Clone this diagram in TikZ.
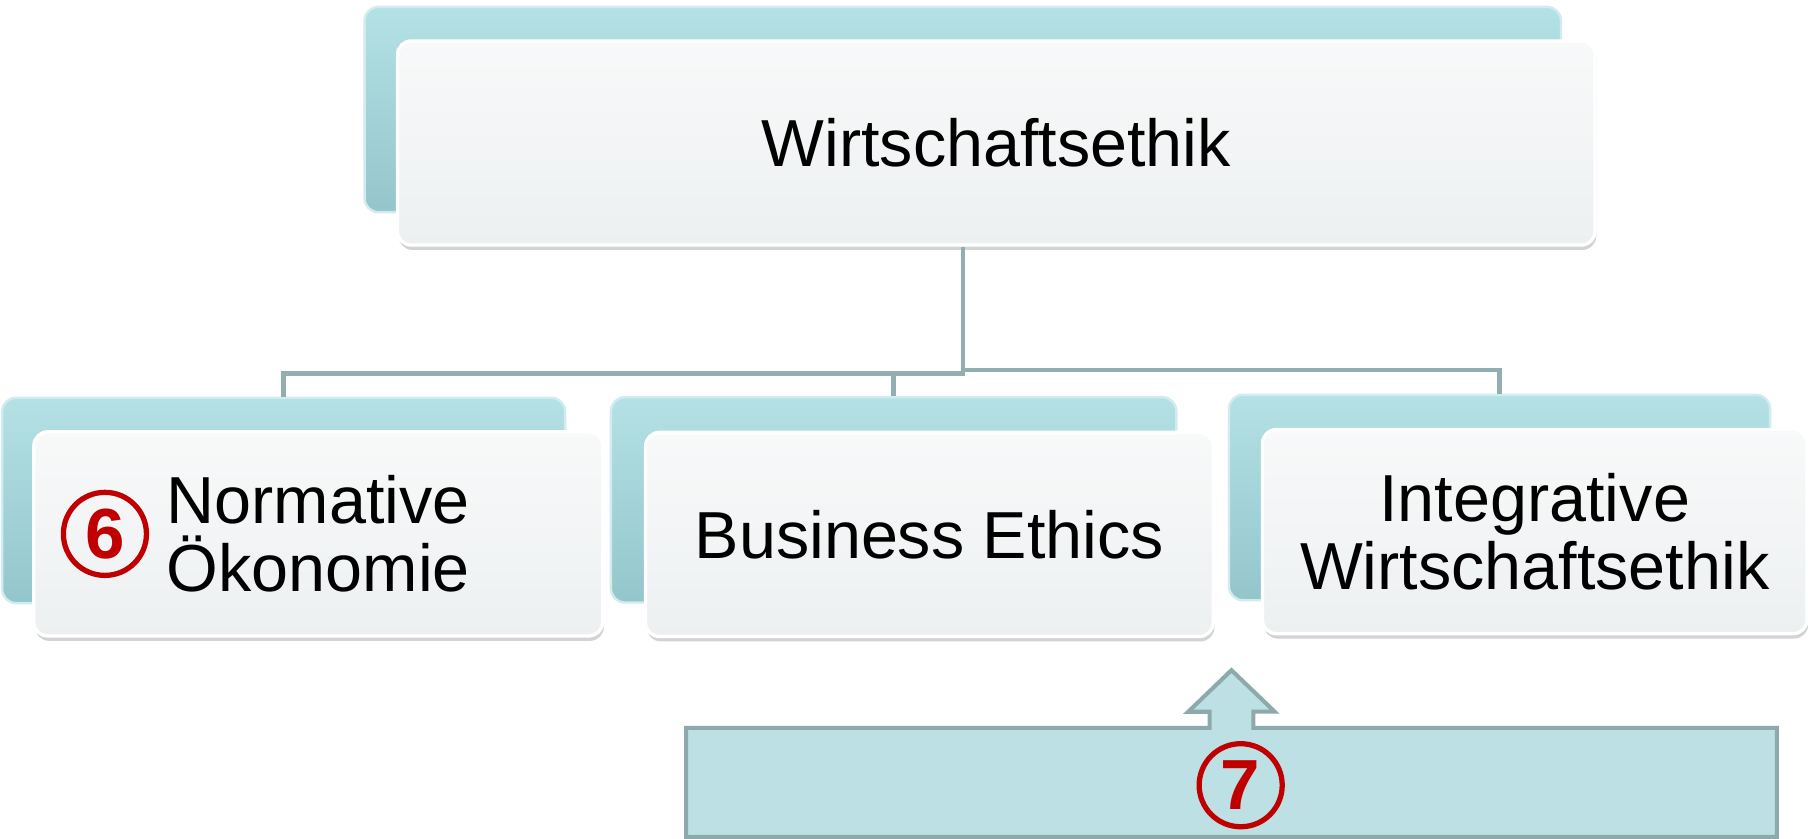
\documentclass[tikz,border=0pt]{standalone}
\usepackage{fontspec}
\setmainfont{Liberation Sans}
\usepackage{tikz}
\usetikzlibrary{positioning,shadows}
\definecolor{cardteal1}{HTML}{B4E1E5}
\definecolor{cardteal2}{HTML}{93C6CB}
\definecolor{cardgray}{HTML}{EDF0F1}
\definecolor{cardedge}{HTML}{D2EBEE}
\definecolor{linkgray}{HTML}{93AEB1}
\definecolor{boxteal}{HTML}{BCE0E3}
\definecolor{boxedge}{HTML}{8DA9AB}
\definecolor{markred}{HTML}{C00000}

\begin{document}
\begin{tikzpicture}[
        x=0.01cm, y=0.01cm,
        every node/.style={font=\fontsize{16.4}{16.8}\selectfont},
        backcard/.style={rectangle, rounded corners=0.12cm, top color=cardteal1, bottom color=cardteal2, draw=cardedge, line width=0.6pt, minimum height=1.78cm},
        card/.style={rectangle, rounded corners=0.12cm, top color=white!60!cardgray, bottom color=cardgray, draw=white, line width=0.8pt, minimum height=1.77cm, align=center, drop shadow={opacity=0.35, shadow xshift=0.3pt, shadow yshift=-1.2pt}},
        link/.style={draw=linkgray, line width=1.1pt},
        numcircle/.style={circle, draw=markred, line width=1.3pt, minimum size=0.72cm, inner sep=0pt, text=markred, font=\fontsize{17.5}{17.5}\selectfont\bfseries},
        arrowbox/.style={draw=boxedge, fill=boxteal, line width=1pt, line join=miter}
    ]
        \useasboundingbox (0,0) rectangle (1568,727);

        % Top card
        \node[backcard, minimum width=10.37cm] (topback) at (835,632) {};
        \node[card, minimum width=10.38cm] (top) at ([xshift=0.29cm, yshift=-0.29cm]topback.center) {Wirtschaftsethik};

        % Bottom row
        \node[backcard, minimum width=4.88cm] (leftback) at (246,293) {};
        \node[card, minimum width=4.93cm, align=left] (left) at ([xshift=0.30cm, yshift=-0.29cm]leftback.center) {Normative\\Ökonomie};
        \node[numcircle] (six) at ([xshift=0.63cm]left.west) {6};

        \node[backcard, minimum width=4.90cm] (midback) at (775,293.5) {};
        \node[card, minimum width=4.92cm] (mid) at ([xshift=0.31cm, yshift=-0.30cm]midback.center) {Business Ethics};

        \node[backcard, minimum width=4.69cm] (rightback) at (1300.5,295.5) {};
        \node[card, minimum width=4.72cm] (right) at ([xshift=0.305cm, yshift=-0.295cm]rightback.center) {Integrative\\Wirtschaftsethik};

        % Links
        \coordinate (topfoot) at (topback.south |- top.south);
        \coordinate[below=1.1cm of topfoot] (hub);
        \draw[link] (topfoot) -- (hub) -| (leftback.north);
        \draw[link] (hub) -| (midback.north);
        \draw[link] ([yshift=0.03cm]hub) -| (rightback.north);

        % Arrow box
        \node[rectangle, minimum width=9.44cm, minimum height=0.93cm, inner sep=0pt] (impulse) at (1068,48.5) {};
        \coordinate[above=0.5cm of impulse.north] (tip);
        \draw[arrowbox] (impulse.south west) -- (impulse.north west) -- ([xshift=-0.19cm]impulse.north)
            -- ++(0,14) -- ++(-18.5,0) -- (tip) -- ++(37.5,-36) -- ++(-18.5,0) -- ++(0,-14)
            -- (impulse.north east) -- (impulse.south east) -- cycle;
        \node[numcircle] (seven) at ([xshift=0.08cm, yshift=-0.025cm]impulse.center) {7};

    \end{tikzpicture}
\end{document}
